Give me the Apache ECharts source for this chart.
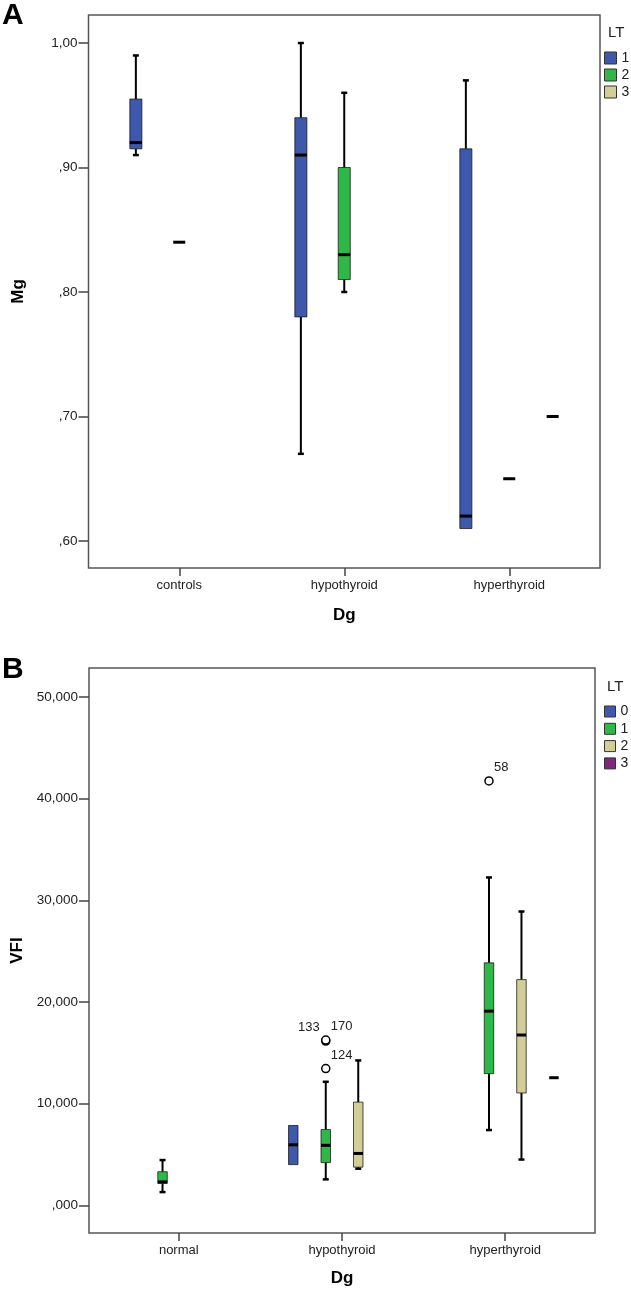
<!DOCTYPE html>
<html>
<head>
<meta charset="utf-8">
<script src="https://cdn.jsdelivr.net/npm/echarts@6/dist/echarts.min.js"></script>
<style>
  html, body { margin: 0; padding: 0; background: #fff; }
  #chartA { width: 631px; height: 640px; }
  #chartB { width: 631px; height: 655px; }
</style>
</head>
<body>
<div id="chartA"></div>
<div id="chartB"></div>
<script>
// ---------------- Panel A data (Mg by Dg, clustered by LT) ----------------
const catsA = ['controls', 'hypothyroid', 'hyperthyroid'];
const ltA = ['1', '2', '3'];
// five-number summaries [min, q1, median, q3, max] per category; null = no data
const mgLT1 = [[0.91, 0.915, 0.92, 0.955, 0.99], [0.67, 0.78, 0.91, 0.94, 1.00], [0.61, 0.61, 0.62, 0.915, 0.97]];
const mgLT2 = [[0.84, 0.84, 0.84, 0.84, 0.84], [0.80, 0.81, 0.83, 0.90, 0.96], [0.65, 0.65, 0.65, 0.65, 0.65]];
const mgLT3 = [null, null, [0.70, 0.70, 0.70, 0.70, 0.70]];
const yTicksA = [0.6, 0.7, 0.8, 0.9, 1.0];
const yTickLabelsA = [',60', ',70', ',80', ',90', '1,00'];

// ---------------- Panel B data (VFI by Dg, clustered by LT) ----------------
const catsB = ['normal', 'hypothyroid', 'hyperthyroid'];
const ltB = ['0', '1', '2', '3'];
const vfiLT0 = [null, [4000, 4000, 5950, 7850, 7850], null];
const vfiLT1 = [[1300, 2150, 2300, 3300, 4450], [2550, 4200, 5900, 7450, 12150], [7400, 12950, 19100, 23850, 32250]];
const vfiLT2 = [null, [3600, 3750, 5100, 10150, 14250], [4500, 11050, 16750, 22200, 28900]];
const vfiLT3 = [null, null, [12550, 12550, 12550, 12550, 12550]];
// outliers: category index, LT index, value, case id
const vfiOutlierCat = [1, 1, 1, 2];
const vfiOutlierLT = [1, 1, 1, 1];
const vfiOutlierValue = [16150, 16250, 13450, 41750];
const vfiOutlierId = ['133', '170', '124', '58'];
const yTicksB = [0, 10000, 20000, 30000, 40000, 50000];
const yTickLabelsB = [',000', '10,000', '20,000', '30,000', '40,000', '50,000'];

// ---------------- styling ----------------
const FONT = '"Liberation Sans", Arial, sans-serif';
const COLORS = ['#3E58AC', '#2EB848', '#D3CE97', '#7C287D'];
const outlierLabelLeft = { '133': true };

function boxRenderer(offset, boxW, whiskerW) {
  return function (params, api) {
    const cat = api.value(0);
    const unit = api.size([1, 0])[0];
    const cx = api.coord([cat + offset, 0])[0];
    const hw = boxW * unit / 2;
    const py = (i) => api.coord([cat, api.value(i)])[1];
    const yMin = py(1), yQ1 = py(2), yMed = py(3), yQ3 = py(4), yMax = py(5);
    const color = api.visual('color');
    const children = [];
    if (api.value(1) === api.value(5)) {
      children.push({ type: 'line', shape: { x1: cx - hw, y1: yMed, x2: cx + hw, y2: yMed },
        style: { stroke: '#000', lineWidth: 3 } });
      return { type: 'group', children };
    }
    if (yMax < yQ3) {
      children.push({ type: 'line', shape: { x1: cx, y1: yQ3, x2: cx, y2: yMax }, style: { stroke: '#000', lineWidth: whiskerW } });
      children.push({ type: 'line', shape: { x1: cx - 3, y1: yMax, x2: cx + 3, y2: yMax }, style: { stroke: '#000', lineWidth: 2.5 } });
    }
    if (yMin > yQ1) {
      children.push({ type: 'line', shape: { x1: cx, y1: yQ1, x2: cx, y2: yMin }, style: { stroke: '#000', lineWidth: whiskerW } });
      children.push({ type: 'line', shape: { x1: cx - 3, y1: yMin, x2: cx + 3, y2: yMin }, style: { stroke: '#000', lineWidth: 2.5 } });
    }
    children.push({ type: 'rect', shape: { x: cx - hw, y: yQ3, width: 2 * hw, height: Math.max(yQ1 - yQ3, 1) },
      style: { fill: color, stroke: 'rgba(20,20,20,0.75)', lineWidth: 1 } });
    children.push({ type: 'line', shape: { x1: cx - hw, y1: yMed, x2: cx + hw, y2: yMed }, style: { stroke: '#000', lineWidth: 3 } });
    return { type: 'group', children };
  };
}

function boxSeries(name, rows, color, offset, boxW, whiskerW) {
  const data = [];
  rows.forEach((r, i) => { if (r) data.push([i].concat(r)); });
  return {
    type: 'custom', name, data,
    itemStyle: { color },
    encode: { x: 0, y: [1, 2, 3, 4, 5] },
    renderItem: boxRenderer(offset, boxW, whiskerW),
    silent: true
  };
}

function valueAxisY(name, nameGap, min, max, ticks, labels) {
  return {
    type: 'value', min, max, name, nameLocation: 'middle', nameGap,
    nameTextStyle: { fontSize: 17, fontWeight: 'bold', color: '#000', fontFamily: FONT },
    axisLine: { show: false, onZero: false }, splitLine: { show: false },
    axisTick: { show: true, length: 10, customValues: ticks, lineStyle: { color: '#444', width: 1.5 } },
    axisLabel: {
      customValues: ticks, margin: 11, fontSize: 13.5, color: '#222', fontFamily: FONT,
      formatter: (v) => { const i = ticks.findIndex(t => Math.abs(t - v) < 1e-9); return i >= 0 ? labels[i] : ''; }
    }
  };
}

function catAxisX(cats, nameGap) {
  const ticks = cats.map((c, i) => i);
  return {
    type: 'value', min: -0.55, max: 2.55, name: 'Dg', nameLocation: 'middle', nameGap,
    nameTextStyle: { fontSize: 17, fontWeight: 'bold', color: '#000', fontFamily: FONT },
    axisLine: { show: false, onZero: false }, splitLine: { show: false },
    axisTick: { show: true, length: 8, customValues: ticks, lineStyle: { color: '#444', width: 1.5 } },
    axisLabel: { customValues: ticks, margin: 11, fontSize: 13, color: '#222', fontFamily: FONT,
      formatter: (v) => cats[Math.round(v)] }
  };
}

function legendCfg(names, colors, top, size, gap) {
  return {
    orient: 'vertical', left: 604, top, icon: 'rect', itemWidth: size, itemHeight: size, itemGap: gap,
    padding: 0, selectedMode: false,
    itemStyle: { borderColor: '#333', borderWidth: 1 },
    textStyle: { fontSize: 14, color: '#222', fontFamily: FONT },
    data: names.map((n, i) => ({ name: n, itemStyle: { color: colors[i] } }))
  };
}

// ---------------- Chart A ----------------
const chartA = echarts.init(document.getElementById('chartA'));
const offA = 0.263, bwA = 0.073;
const ltAColors = [COLORS[0], COLORS[1], COLORS[2]];
chartA.setOption({
  animation: false,
  color: ltAColors,
  title: [
    { text: 'A', left: 2, top: 1, padding: 0, textStyle: { fontSize: 30, fontWeight: 'bold', color: '#000', fontFamily: FONT } },
    { text: 'LT', left: 608, top: 25, padding: 0, textStyle: { fontSize: 15, fontWeight: 'normal', color: '#222', fontFamily: FONT } }
  ],
  grid: { left: 88.5, top: 15, width: 511.5, height: 553, show: true, borderColor: '#555', borderWidth: 1.5, backgroundColor: '#fff' },
  xAxis: catAxisX(catsA, 39),
  yAxis: valueAxisY('Mg', 62, 0.5783, 1.0225, yTicksA, yTickLabelsA),
  legend: legendCfg(ltA, ltAColors, 51, 12, 3),
  series: [
    boxSeries(ltA[0], mgLT1, ltAColors[0], -offA, bwA, 2),
    boxSeries(ltA[1], mgLT2, ltAColors[1], 0, bwA, 2),
    boxSeries(ltA[2], mgLT3, ltAColors[2], offA, bwA, 2)
  ]
});

// ---------------- Chart B ----------------
const chartB = echarts.init(document.getElementById('chartB'));
const offB = 0.199, bwB = 0.058;
const outlierData = vfiOutlierCat.map((c, i) => [c, vfiOutlierLT[i], vfiOutlierValue[i]]);
chartB.setOption({
  animation: false,
  color: COLORS,
  title: [
    { text: 'B', left: 2, top: 15, padding: 0, textStyle: { fontSize: 30, fontWeight: 'bold', color: '#000', fontFamily: FONT } },
    { text: 'LT', left: 607, top: 39, padding: 0, textStyle: { fontSize: 15, fontWeight: 'normal', color: '#222', fontFamily: FONT } }
  ],
  grid: { left: 89, top: 28, width: 506, height: 565, show: true, borderColor: '#555', borderWidth: 1.5, backgroundColor: '#fff' },
  xAxis: catAxisX(catsB, 37),
  yAxis: valueAxisY('VFI', 58, -2726, 52854, yTicksB, yTickLabelsB),
  legend: legendCfg(ltB, COLORS, 64.5, 11, 3.3),
  series: [
    boxSeries(ltB[0], vfiLT0, COLORS[0], -1.5 * offB, bwB, 2),
    boxSeries(ltB[1], vfiLT1, COLORS[1], -0.5 * offB, bwB, 2),
    boxSeries(ltB[2], vfiLT2, COLORS[2], 0.5 * offB, bwB, 2),
    boxSeries(ltB[3], vfiLT3, COLORS[3], 1.5 * offB, bwB, 2),
    {
      type: 'custom', name: 'outliers', data: outlierData, silent: true,
      encode: { x: 0, y: 2 },
      renderItem: function (params, api) {
        const cat = api.value(0), lt = api.value(1), v = api.value(2);
        const cx = api.coord([cat + (lt - 1.5) * offB, v])[0];
        const cy = api.coord([cat, v])[1];
        const id = vfiOutlierId[params.dataIndex];
        const left = !!outlierLabelLeft[id];
        return {
          type: 'group', children: [
            { type: 'circle', shape: { cx, cy, r: 4 }, style: { fill: '#fff', stroke: '#000', lineWidth: 1.5 } },
            { type: 'text', style: { text: id, x: left ? cx - 6 : cx + 5, y: cy - 7,
                align: left ? 'right' : 'left', verticalAlign: 'bottom',
                fontSize: 13, fill: '#222', fontFamily: FONT } }
          ]
        };
      }
    }
  ]
});
</script>
</body>
</html>
